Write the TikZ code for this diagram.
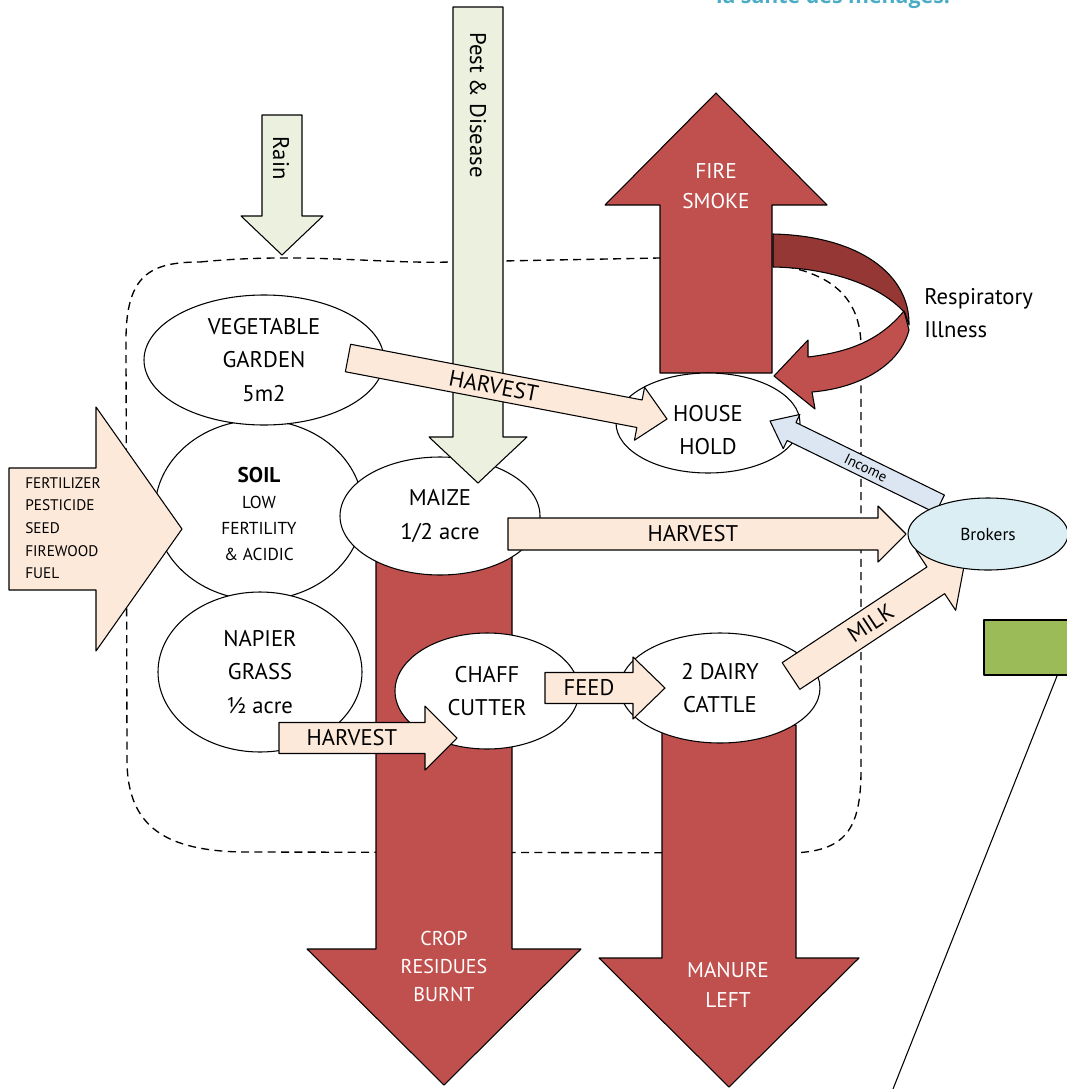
\documentclass[tikz,border=0pt]{standalone}
\usepackage{fontspec}
\setmainfont{PT Sans}
\newfontfamily\topfont{Open Sans}
\usetikzlibrary{shapes.geometric,calc}
\definecolor{redA}{HTML}{C0504D}
\definecolor{redD}{HTML}{953735}
\definecolor{peach}{HTML}{FDE9D9}
\definecolor{paleg}{HTML}{EBF1DE}
\definecolor{paleb}{HTML}{DCE6F2}
\definecolor{brok}{HTML}{DAEEF3}
\definecolor{grn}{HTML}{9BBB59}
\definecolor{topblue}{HTML}{4BACC6}
\def\u{0.75pt}
% style, from, to, shaft half width, head half width, head length (px)
\newcommand\fatarrow[6]{%
  \coordinate (fah) at ($(#3)!#6*\u!(#2)$);
  \path[#1] ($(#2)!#4*\u!90:(#3)$) -- ($(fah)!#4*\u!-90:(#2)$) -- ($(fah)!#5*\u!-90:(#2)$) -- (#3)
     -- ($(fah)!#5*\u!90:(#2)$) -- ($(fah)!#4*\u!90:(#2)$) -- ($(#2)!#4*\u!-90:(#3)$) -- cycle;
}
\tikzset{
  outl/.style={draw=black, line width=0.8pt, line join=round},
  redarrow/.style={outl, fill=redA},
  peacharrow/.style={outl, fill=peach},
  greenarrow/.style={outl, fill=paleg},
  bluearrow/.style={outl, fill=paleb},
  oval/.style={ellipse, draw=black, line width=0.8pt, fill=white, inner sep=0pt, align=center,
     font=\fontsize{17}{25}\selectfont},
  lbl/.style={font=\fontsize{17}{25}\selectfont, inner sep=0pt},
  whitelbl/.style={text=white, align=center, inner sep=0pt},
  bound/.style={draw=black, line width=1pt, dash pattern=on 6pt off 4pt}
}
\begin{document}
\begin{tikzpicture}[x=0.75pt, y=-0.75pt]
\useasboundingbox (0,0) rectangle (1067,1089);

% dashed farm boundary
\draw[bound] (200,262) .. controls (300,252) and (380,264) .. (450,262) -- (660,258)
  -- (740,262) .. controls (835,264) and (860,300) .. (861,345)
  -- (861,770) .. controls (861,830) and (845,852) .. (790,853)
  -- (240,852) .. controls (170,850) and (127,830) .. (127,760)
  -- (126,340) .. controls (126,275) and (150,262) .. (200,262) -- cycle;

% red down arrows
\coordinate (crop0) at (444,550); \coordinate (crop1) at (444,1085);
\fatarrow{redarrow}{crop0}{crop1}{68}{137}{136}
\coordinate (man0) at (729,725); \coordinate (man1) at (729,1087);
\fatarrow{redarrow}{man0}{man1}{67}{130}{129}

% fire arrow
\coordinate (fire0) at (716,373); \coordinate (fire1) at (716,93);
\fatarrow{redarrow}{fire0}{fire1}{56}{111}{112}

% curved respiratory arrow
\path[outl, fill=redD] (773,234) .. controls (860,236) and (910,275) .. (909,325)
  -- (905,313) .. controls (880,285) and (830,268) .. (773,267) -- cycle;
\path[outl, fill=redA] (904,311) .. controls (880,340) and (850,352) .. (808,357)
  -- (808,340) -- (774,376) -- (815,409) -- (812,392)
  .. controls (860,388) and (900,365) .. (909,330) -- cycle;

% rain arrow
\coordinate (rain0) at (282,115); \coordinate (rain1) at (282,255);
\fatarrow{greenarrow}{rain0}{rain1}{20}{41}{39}

% green box and line at right
\path[outl, fill=grn] (984,620) rectangle (1075,675);
\coordinate (gl0) at (1057,676); \coordinate (gl1) at (893,1089);
\draw[line width=0.8pt] (gl0) -- (gl1);

% ovals
\node[oval, minimum width=208*\u, minimum height=180*\u] (soil) at (259,510) {};
\node[oval, minimum width=240*\u, minimum height=130*\u] (veg) at (264,360) {VEGETABLE\\GARDEN\\5m2};
\node[oval, minimum width=204*\u, minimum height=160*\u] (napier) at (260,672) {NAPIER\\GRASS\\½ acre};
\node[oval, minimum width=200*\u, minimum height=118*\u] (maize) at (440,516) {MAIZE\\1/2 acre};
\node[oval, minimum width=184*\u, minimum height=100*\u] (house) at (708,423) {};
\node[lbl, align=center] (housetxt) at (708,430) {HOUSE\\HOLD};
\node[oval, minimum width=184*\u, minimum height=116*\u] (chaff) at (487,691) {CHAFF\\CUTTER};
\node[oval, minimum width=200*\u, minimum height=110*\u] (cattle) at (720,688) {2 DAIRY\\CATTLE};
\node[align=center, inner sep=0pt, font=\fontsize{13}{19.5}\selectfont] (soiltxt) at (259,514)
  {{\fontsize{16}{19.5}\selectfont\bfseries SOIL}\\LOW\\FERTILITY\\\& ACIDIC};

% pest arrow
\coordinate (pest0) at (478,7); \coordinate (pest1) at (478,483);
\fatarrow{greenarrow}{pest0}{pest1}{25}{49}{46}

% left input arrow
\coordinate (in0) at (9,529); \coordinate (in1) at (182,529);
\fatarrow{peacharrow}{in0}{in1}{61}{122}{86}

% harvest and flow arrows
\coordinate (vh0) at (348,358); \coordinate (vh1) at (667,419);
\fatarrow{peacharrow}{vh0}{vh1}{14}{27}{28}
\path (vh0) -- (fah) node[midway, sloped, lbl] (vhlbl) {HARVEST};

\coordinate (mh0) at (508,534); \coordinate (mh1) at (906,534);
\fatarrow{peacharrow}{mh0}{mh1}{16}{28}{28}
\path (mh0) -- (fah) node[midway, sloped, lbl] (mhlbl) {HARVEST};

\coordinate (nh0) at (279,738); \coordinate (nh1) at (457,738);
\fatarrow{peacharrow}{nh0}{nh1}{15.5}{32}{32}
\path (nh0) -- (fah) node[midway, sloped, lbl] (nhlbl) {HARVEST};

\coordinate (fd0) at (545,688); \coordinate (fd1) at (665,688);
\fatarrow{peacharrow}{fd0}{fd1}{15.5}{31}{32}
\path (fd0) -- (fah) node[midway, sloped, lbl] (fdlbl) {FEED};

\coordinate (mk0) at (791,676); \coordinate (mk1) at (965,561);
\fatarrow{peacharrow}{mk0}{mk1}{16}{36}{35}
\path (mk0) -- (fah) node[pos=0.55, sloped, lbl] (mklbl) {MILK};

\coordinate (ic0) at (940,504); \coordinate (ic1) at (770,421);
\fatarrow{bluearrow}{ic0}{ic1}{10}{19}{24}
\path (ic0) -- (fah) node[pos=0.5, sloped, inner sep=0pt, font=\fontsize{11}{13}\selectfont] (iclbl) {Income};

% brokers
\node[ellipse, draw=black, line width=0.8pt, fill=brok, minimum width=160*\u, minimum height=72*\u,
  inner sep=0pt, font=\fontsize{13}{15}\selectfont] (brokers) at (988,534) {Brokers};

% texts
\node[lbl, rotate=-90] (raintxt) at (281,158) {Rain};
\node[lbl, rotate=-90] (pesttxt) at (478,105) {Pest \& Disease};
\node[whitelbl, font=\fontsize{16}{22}\selectfont] (firetxt) at (716,186) {FIRE\\SMOKE};
\node[whitelbl, font=\fontsize{15}{21}\selectfont] (croptxt) at (444,966) {CROP\\RESIDUES\\BURNT};
\node[whitelbl, font=\fontsize{16}{22}\selectfont] (mantxt) at (728,985) {MANURE\\LEFT};
\node[anchor=west, align=left, inner sep=0pt, font=\fontsize{17}{25}\selectfont] (resp) at (924,313) {Respiratory\\Illness};
\node[anchor=west, align=left, inner sep=0pt, font=\fontsize{11.5}{17}\selectfont] (inputs) at (25,528)
  {FERTILIZER\\PESTICIDE\\SEED\\FIREWOOD\\FUEL};
\node[anchor=base, inner sep=0pt, text=topblue, font=\topfont\bfseries\fontsize{16}{18}\selectfont] (toptxt) at (833,3) {la santé des ménages.};
\end{tikzpicture}
\end{document}
